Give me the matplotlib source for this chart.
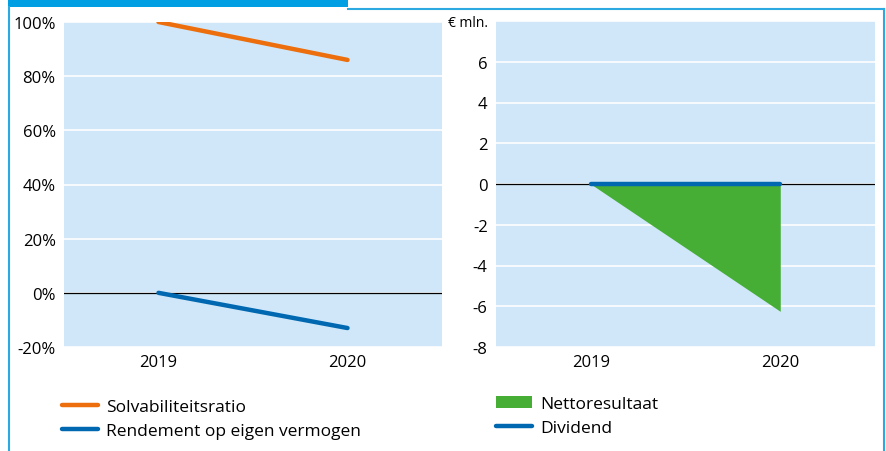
import matplotlib.pyplot as plt
import matplotlib.patches as mpatches
from matplotlib.lines import Line2D

jaren = ['2019', '2020']
solvabiliteit = [100, 86]
rendement = [0, -13]
nettoresultaat = [0, -6.25]
dividend = [0, 0]

oranje = '#EC6E0C'
blauw = '#0068B1'
groen = '#46AD35'
achtergrond = '#CFE7F9'
kader = '#2CA9E1'

plt.rcParams['font.family'] = ['Open Sans', 'DejaVu Sans']
plt.rcParams['font.size'] = 12

fig = plt.figure(figsize=(8.87, 4.52), dpi=100)

# kader rond de figuur
fig.patches.append(mpatches.Rectangle((8 / 887, 1 - 8 / 452), 340 / 887, 8 / 452,
                                      transform=fig.transFigure, color='#009FE3', lw=0))
fig.lines.append(Line2D([348 / 887, 884.5 / 887], [1 - 9.5 / 452, 1 - 9.5 / 452],
                        transform=fig.transFigure, color=kader, lw=1.5))
fig.lines.append(Line2D([9 / 887, 9 / 887], [0, 1 - 8 / 452],
                        transform=fig.transFigure, color=kader, lw=1.5))
fig.lines.append(Line2D([884.5 / 887, 884.5 / 887], [0, 1 - 9.5 / 452],
                        transform=fig.transFigure, color=kader, lw=1.5))

ax1 = fig.add_axes([64 / 887, 1 - 348 / 452, 378 / 887, 325 / 452])
ax2 = fig.add_axes([496 / 887, 1 - 348 / 452, 379 / 887, 326 / 452])

x = [0, 1]

for ax in (ax1, ax2):
    ax.set_facecolor(achtergrond)
    for s in ax.spines.values():
        s.set_visible(False)
    ax.tick_params(length=0, labelsize=12)
    ax.tick_params(axis='x', pad=5)
    ax.tick_params(axis='y', pad=6)
    ax.grid(axis='y', color='white', lw=1.2)
    ax.set_axisbelow(True)
    ax.set_xlim(-0.5, 1.5)
    ax.set_xticks(x)
    ax.set_xticklabels(jaren)
    ax.axhline(0, color='black', lw=0.9, zorder=2)

# links
ax1.plot(x, solvabiliteit, color=oranje, lw=3.2, solid_capstyle='round', zorder=3)
ax1.plot(x, rendement, color=blauw, lw=3.2, solid_capstyle='round', zorder=3)
ax1.set_ylim(-20, 100)
yt1 = [-20, 0, 20, 40, 60, 80, 100]
ax1.set_yticks(yt1)
ax1.set_yticklabels([f'{v}%' for v in yt1])

# rechts
ax2.fill_between(x, nettoresultaat, 0, color=groen, lw=0, zorder=1.5)
ax2.plot(x, dividend, color=blauw, lw=3.2, solid_capstyle='round', zorder=3)
ax2.set_ylim(-8, 8)
yt2 = [-8, -6, -4, -2, 0, 2, 4, 6, 8]
ax2.set_yticks(yt2)
ax2.set_yticklabels([str(v) for v in yt2[:-1]] + ['€ mln.'])
ax2.get_yticklabels()[-1].set_fontsize(10)

# legenda's
h1 = [Line2D([], [], color=oranje, lw=3.2, solid_capstyle='round'),
      Line2D([], [], color=blauw, lw=3.2, solid_capstyle='round')]
fig.legend(h1, ['Solvabiliteitsratio', 'Rendement op eigen vermogen'],
           loc='upper left', bbox_to_anchor=(62 / 887, 1 - 400 / 452),
           frameon=False, borderpad=0, borderaxespad=0,
           handlelength=2.05, handletextpad=0.5, labelspacing=0.45,
           fontsize=12.5)
h2 = [mpatches.Patch(color=groen, lw=0),
      Line2D([], [], color=blauw, lw=3.2, solid_capstyle='round')]
fig.legend(h2, ['Nettoresultaat', 'Dividend'],
           loc='upper left', bbox_to_anchor=(496 / 887, 1 - 397 / 452),
           frameon=False, borderpad=0, borderaxespad=0,
           handlelength=2.05, handletextpad=0.5, labelspacing=0.45,
           fontsize=12.5)

fig.savefig('out.png', dpi=100)
